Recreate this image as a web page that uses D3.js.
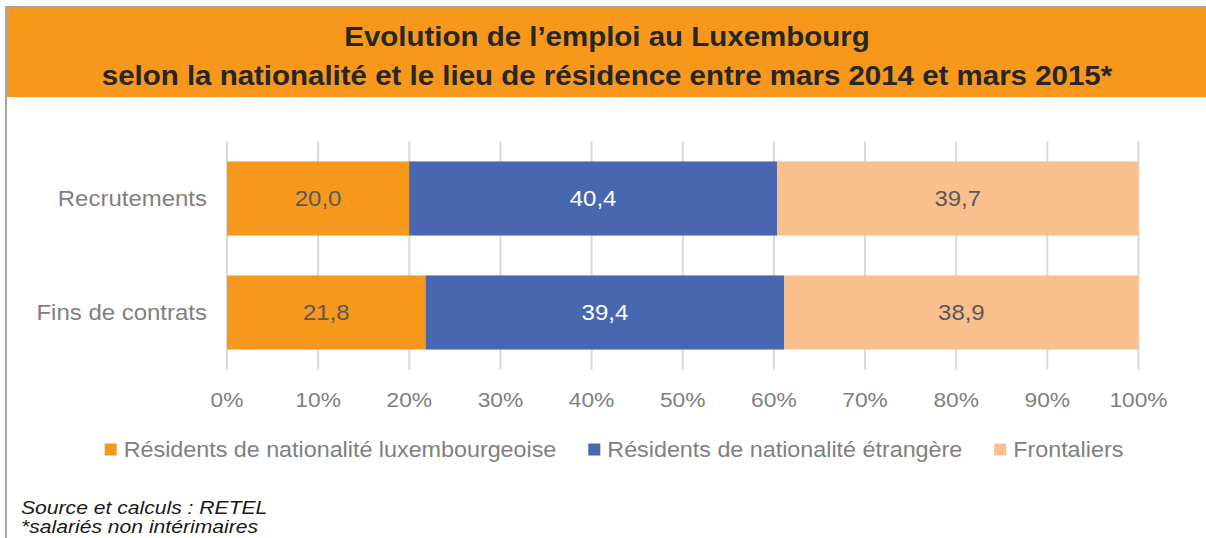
<!DOCTYPE html>
<html lang="fr">
<head>
<meta charset="UTF-8">
<title>Evolution de l'emploi au Luxembourg</title>
<script src="https://d3js.org/d3.v7.min.js"></script>
<style>
  body { margin: 0; background: #fff; }
  svg { display: block; font-family: "Liberation Sans", Arial, sans-serif; }
</style>
</head>
<body>
<div id="chart"></div>
<script>
// data
const categories = ["Recrutements", "Fins de contrats"];
const seriesNames = ["Résidents de nationalité luxembourgeoise", "Résidents de nationalité étrangère", "Frontaliers"];
const residentsLux = [20.0, 21.8];
const residentsEtr = [40.4, 39.4];
const frontaliers = [39.7, 38.9];
const tickValues = [0, 0.1, 0.2, 0.3, 0.4, 0.5, 0.6, 0.7, 0.8, 0.9, 1];
const titleLines = ["Evolution de l\u2019emploi au Luxembourg",
                    "selon la nationalité et le lieu de résidence entre mars 2014 et mars 2015*"];
const notes = ["Source et calculs : RETEL", "*salariés non intérimaires"];

const colors = ["#f7981d", "#4867b0", "#f9bf8d"];
const valueColors = ["#595959", "#ffffff", "#595959"];

const W = 1206, H = 538;
const K = 1.1; // the reference text is a little wide

const rows = categories.map((c, i) => ({
  cat: c, lux: residentsLux[i], etr: residentsEtr[i], fro: frontaliers[i]
}));
const keys = ["lux", "etr", "fro"];

const svg = d3.select("#chart").append("svg")
  .attr("width", W).attr("height", H);

// puts text at (x, y) but stretched horizontally by K
function txt(g, x, y) {
  return g.append("text").attr("x", x / K).attr("y", y).attr("transform", `scale(${K},1)`);
}

// frame + title band
svg.append("rect").attr("x", 5).attr("y", 6).attr("width", W - 5).attr("height", 2).attr("fill", "#a6a6a6");
svg.append("rect").attr("x", 5).attr("y", 6).attr("width", 2).attr("height", H - 6).attr("fill", "#a6a6a6");
svg.append("rect").attr("x", 7).attr("y", 8).attr("width", W - 7).attr("height", 89).attr("fill", "#f7981d");

titleLines.forEach((t, i) => {
  txt(svg, 607, i === 0 ? 46 : 85)
    .attr("text-anchor", "middle")
    .attr("font-size", 26.8).attr("font-weight", "bold")
    .attr("fill", "#262626").text(t);
});

// scales
const x = d3.scaleLinear().domain([0, 1]).range([227, 1138.5]);
const y = d3.scaleBand().domain(categories).range([141.5, 369.5])
  .paddingInner(0.35).paddingOuter(0.175);

// gridlines
svg.append("g").selectAll("line").data(tickValues).join("line")
  .attr("x1", d => x(d)).attr("x2", d => x(d))
  .attr("y1", y.range()[0]).attr("y2", y.range()[1])
  .attr("stroke", "#d9d9d9").attr("stroke-width", 2);

// stacked bars (100%)
const stack = d3.stack().keys(keys).offset(d3.stackOffsetExpand);
const layers = stack(rows);
const fr = d3.formatLocale({ decimal: ",", thousands: " ", grouping: [3], currency: ["", " €"] });
const fmt = fr.format(".1f");

layers.forEach((layer, li) => {
  const g = svg.append("g");
  g.selectAll("rect").data(layer).join("rect")
    .attr("x", d => x(d[0]))
    .attr("y", d => y(d.data.cat))
    .attr("width", d => x(d[1]) - x(d[0]))
    .attr("height", y.bandwidth())
    .attr("fill", colors[li]);
  layer.forEach(d => {
    txt(g, (x(d[0]) + x(d[1])) / 2, y(d.data.cat) + y.bandwidth() / 2 + 8)
      .attr("text-anchor", "middle")
      .attr("font-size", 21.8)
      .attr("fill", valueColors[li])
      .text(fmt(d.data[layer.key]));
  });
});

// category labels
categories.forEach(c => {
  txt(svg, 207, y(c) + y.bandwidth() / 2 + 8)
    .attr("text-anchor", "end")
    .attr("font-size", 21.8)
    .attr("fill", "#7f7f7f").text(c);
});

// x tick labels
const pct = d3.format(".0%");
tickValues.forEach(t => {
  txt(svg, x(t), 407)
    .attr("text-anchor", "middle")
    .attr("font-size", 20.7)
    .attr("fill", "#7f7f7f").text(pct(t));
});

// legend
const leg = svg.append("g");
const items = seriesNames.map((s, i) => {
  const g = leg.append("g");
  g.append("rect").attr("x", 0).attr("y", 443.5).attr("width", 12).attr("height", 12).attr("fill", colors[i]);
  const t = txt(g, 19, 457.5).attr("font-size", 21.2).attr("fill", "#7f7f7f").text(s);
  return { g, w: 19 + t.node().getComputedTextLength() * K };
});
const gap = 32;
const total = d3.sum(items, d => d.w) + gap * (items.length - 1);
let cx = 614 - total / 2;
items.forEach(it => {
  it.g.attr("transform", `translate(${cx},0)`);
  cx += it.w + gap;
});

// notes
notes.forEach((n, i) => {
  txt(svg, 21, 514 + i * 19.5)
    .attr("font-size", 19.2).attr("font-style", "italic")
    .attr("fill", "#1a1a1a").text(n);
});
</script>
</body>
</html>
